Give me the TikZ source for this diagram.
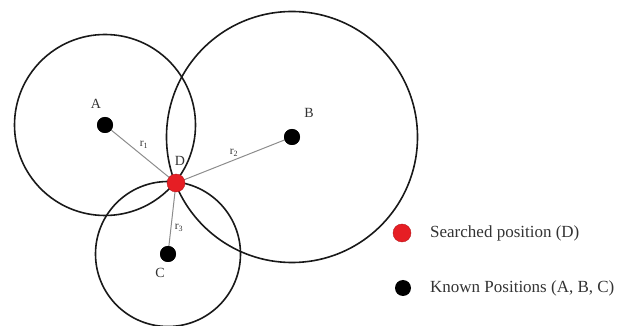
\documentclass[tikz,border=0pt]{standalone}
\usepackage{fontspec}
\setmainfont{Liberation Serif}
\definecolor{dotred}{RGB}{230,30,36}
\definecolor{spokegray}{RGB}{140,140,140}
\begin{document}
\begin{tikzpicture}[x=1pt,y=-1pt,
  known/.style={circle,fill=black,inner sep=0pt,minimum size=16pt},
  searched/.style={circle,fill=dotred,draw=dotred!80!black,line width=0.4pt,inner sep=0pt,minimum size=18pt},
  ring/.style={draw=black!90,line width=1.6pt},
  spoke/.style={draw=spokegray,line width=1pt},
  lbl/.style={font=\fontsize{14}{16}\selectfont,text=black!80,inner sep=0pt},
  rlbl/.style={font=\fontsize{11.5}{13}\selectfont,text=black!80,inner sep=0pt},
  legtxt/.style={font=\fontsize{17}{20}\selectfont,text=black!80,anchor=west,inner sep=0pt}]
\useasboundingbox (0,0) rectangle (625,326);
% known positions
\node[known] (A) at (105,125) {};
\node[known] (B) at (292,137) {};
\node[known] (C) at (168,254) {};
% circles
\draw[ring] (A.center) circle[radius=90.5pt];
\draw[ring] (B.center) circle[radius=125.5pt];
\draw[ring] (C.center) circle[radius=72.5pt];
% searched position
\coordinate (Dc) at (176,183);
\draw[spoke] (A.center) -- (Dc);
\draw[spoke] (B.center) -- (Dc);
\draw[spoke] (C.center) -- (Dc);
\node[known] at (A) {};
\node[known] at (B) {};
\node[known] at (C) {};
\node[searched] (D) at (Dc) {};
% labels
\node[lbl] (lA) at (96,104) {A};
\node[lbl] (lB) at (309,113) {B};
\node[lbl] (lC) at (160,273) {C};
\node[lbl] (lD) at (180,161) {D};
\node[rlbl] (r1) at (144,145) {r\textsubscript{1}};
\node[rlbl] (r2) at (234,153) {r\textsubscript{2}};
\node[rlbl] (r3) at (179,228) {r\textsubscript{3}};
% legend
\node[searched] (legD) at (402,233) {};
\node[known] (legK) at (403,288) {};
\node[legtxt] (tD) at (430,233) {Searched position (D)};
\node[legtxt] (tK) at (430,288) {Known Positions (A, B, C)};
\end{tikzpicture}
\end{document}
